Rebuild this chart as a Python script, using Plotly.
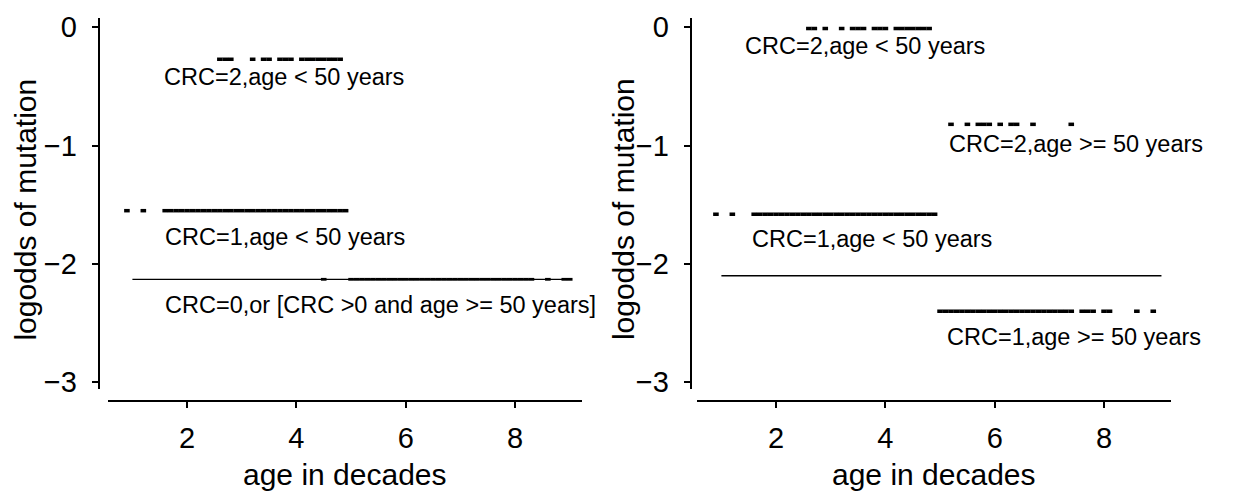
import plotly.graph_objects as go

# ---------------- data (age in decades, logodds level) ----------------
# Left panel
L_crc2_young_age = [2.6, 2.7, 2.8, 3.2, 3.4, 3.5, 3.7, 3.8, 3.9, 4.1, 4.2, 4.3, 4.4, 4.5, 4.6, 4.7, 4.8]
L_crc2_young_lo = -0.27
L_crc1_young_age = [0.9, 1.2, 1.6, 1.7, 1.8, 1.9, 2.0, 2.1, 2.2, 2.3, 2.4, 2.5, 2.6, 2.7, 2.8, 2.9,
                    3.0, 3.1, 3.2, 3.3, 3.4, 3.5, 3.6, 3.7, 3.8, 3.9, 4.0, 4.1, 4.2, 4.3, 4.4, 4.5,
                    4.6, 4.7, 4.8, 4.9]
L_crc1_young_lo = -1.55
L_crc0_age_span = [1.0, 9.0]
L_crc0_lo = -2.13
L_crcpos_old_age = [4.5, 5.0, 5.1, 5.2, 5.3, 5.4, 5.5, 5.6, 5.7, 5.8, 5.9, 6.0, 6.1, 6.2, 6.3, 6.4,
                    6.5, 6.6, 6.7, 6.8, 6.9, 7.0, 7.1, 7.2, 7.3, 7.4, 7.5, 7.6, 7.7, 7.8, 7.9, 8.0,
                    8.1, 8.2, 8.3, 8.6, 8.9, 9.0]

# Right panel
R_crc2_young_age = [2.6, 2.7, 2.9, 3.2, 3.4, 3.5, 3.6, 3.8, 3.9, 4.0, 4.2, 4.3, 4.4, 4.5, 4.6, 4.7, 4.8]
R_crc2_young_lo = -0.01
R_crc2_old_age = [5.2, 5.5, 5.7, 5.8, 5.9, 6.1, 6.3, 6.4, 6.7, 7.4]
R_crc2_old_lo = -0.82
R_crc1_young_age = [0.9, 1.2, 1.6, 1.7, 1.8, 1.9, 2.0, 2.1, 2.2, 2.3, 2.4, 2.5, 2.6, 2.7, 2.8, 2.9,
                    3.0, 3.1, 3.2, 3.3, 3.4, 3.5, 3.6, 3.7, 3.8, 3.9, 4.0, 4.1, 4.2, 4.3, 4.4, 4.5,
                    4.6, 4.7, 4.8, 4.9]
R_crc1_young_lo = -1.58
R_crc0_age_span = [1.0, 9.05]
R_crc0_lo = -2.10
R_crc1_old_age = [5.0, 5.1, 5.2, 5.3, 5.4, 5.5, 5.6, 5.7, 5.8, 5.9, 6.0, 6.1, 6.2, 6.3, 6.4, 6.5,
                  6.6, 6.7, 6.8, 6.9, 7.0, 7.1, 7.2, 7.3, 7.4, 7.6, 7.7, 7.8, 8.0, 8.1, 8.6, 8.9]
R_crc1_old_lo = -2.40

x_ticks = [2, 4, 6, 8]
y_ticks = [0, -1, -2, -3]
y_ticktext = ["0", "\u22121", "\u22122", "\u22123"]

FONT = "Liberation Sans, Arial, sans-serif"
W, H = 1258, 492

fig = go.Figure()


def pts(ages, level, xa, ya, size=4, lw=3.5):
    fig.add_trace(go.Scatter(
        x=ages, y=[level] * len(ages), xaxis=xa, yaxis=ya, mode="markers",
        marker=dict(symbol="line-ew", size=size, color="black",
                    line=dict(color="black", width=lw)),
        showlegend=False, hoverinfo="skip", cliponaxis=False))


def hline(span, level, xa, ya):
    fig.add_trace(go.Scatter(
        x=span, y=[level, level], xaxis=xa, yaxis=ya, mode="lines",
        line=dict(color="black", width=1.3), showlegend=False, hoverinfo="skip"))


# left panel
pts(L_crc2_young_age, L_crc2_young_lo, "x", "y")
pts(L_crc1_young_age, L_crc1_young_lo, "x", "y")
hline(L_crc0_age_span, L_crc0_lo, "x", "y")
pts(L_crcpos_old_age, L_crc0_lo, "x", "y", size=4, lw=2.8)

# right panel
pts(R_crc2_young_age, R_crc2_young_lo, "x2", "y2")
pts(R_crc2_old_age, R_crc2_old_lo, "x2", "y2")
pts(R_crc1_young_age, R_crc1_young_lo, "x2", "y2")
hline(R_crc0_age_span, R_crc0_lo, "x2", "y2")
pts(R_crc1_old_age, R_crc1_old_lo, "x2", "y2")

xr = [0.55, 9.23]
yr = [-3.057, 0.082]
ydom = [1 - 395 / H, 1 - 12 / H]
xpos = 1 - 407 / H

common_x = dict(range=xr, anchor="free", position=xpos, showline=True, linecolor="black",
                linewidth=1.5, ticks="outside", ticklen=7, tickwidth=1.5, tickcolor="black",
                tickvals=x_ticks, showgrid=False, zeroline=False, ticklabelstandoff=5,
                tickfont=dict(family=FONT, size=29, color="black"))
common_y = dict(range=yr, domain=ydom, anchor="free", showline=True, linecolor="black",
                linewidth=1.5, ticks="outside", ticklen=6, tickwidth=1.5, tickcolor="black",
                tickvals=y_ticks, ticktext=y_ticktext, showgrid=False, zeroline=False,
                ticklabelstandoff=9,
                tickfont=dict(family=FONT, size=29, color="black"))

fig.update_layout(
    width=W, height=H, margin=dict(l=0, r=0, t=0, b=0),
    paper_bgcolor="white", plot_bgcolor="white",
    font=dict(family=FONT, color="black"),
    xaxis=dict(domain=[107.8 / W, 582.3 / W], **common_x),
    xaxis2=dict(domain=[696.8 / W, 1171.3 / W], **common_x),
    yaxis=dict(position=98.5 / W, **common_y),
    yaxis2=dict(position=690.5 / W, **common_y),
)

ann_font = dict(family=FONT, size=23.5, color="black")
labels = [
    ("x", "y", 1.54, -0.42, "CRC=2,age < 50 years"),
    ("x", "y", 1.56, -1.77, "CRC=1,age < 50 years"),
    ("x", "y", 1.56, -2.35, "CRC=0,or [CRC >0 and age >= 50 years]"),
    ("x2", "y2", 1.40, -0.155, "CRC=2,age < 50 years"),
    ("x2", "y2", 5.13, -0.99, "CRC=2,age >= 50 years"),
    ("x2", "y2", 1.52, -1.79, "CRC=1,age < 50 years"),
    ("x2", "y2", 9.33, -2.085, "CRC=0"),
    ("x2", "y2", 5.09, -2.62, "CRC=1,age >= 50 years"),
]
for xa, ya, x, y, t in labels:
    fig.add_annotation(x=x, y=y, xref=xa, yref=ya, text=t, showarrow=False,
                       xanchor="left", yanchor="middle", font=ann_font)

title_font = dict(family=FONT, size=30, color="black")
for cx in [345 / W, 934 / W]:
    fig.add_annotation(x=cx, y=1 - 483 / H, xref="paper", yref="paper", text="age in decades",
                       showarrow=False, xanchor="center", yanchor="middle", font=title_font)
for cx in [26 / W, 623.5 / W]:
    fig.add_annotation(x=cx, y=1 - 210 / H, xref="paper", yref="paper",
                       text="logodds of mutation", textangle=-90, showarrow=False,
                       xanchor="center", yanchor="middle", font=title_font)

fig.write_html("out.html")
